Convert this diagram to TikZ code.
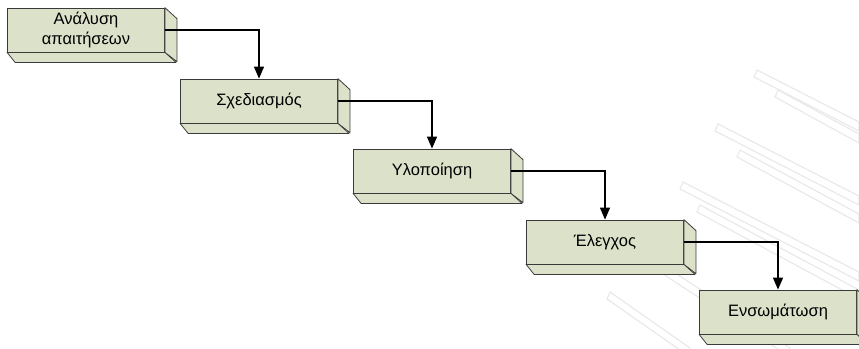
\documentclass[tikz,border=0pt]{standalone}
\usepackage{fontspec}
\setmainfont{Liberation Sans}
\usetikzlibrary{arrows.meta}

\definecolor{boxfill}{HTML}{DCE1CA}
\definecolor{boxline}{HTML}{3A3A3A}

\tikzset{
  stage/.style={draw=boxline, fill=boxfill, line width=0.8pt,
    minimum width=157pt, minimum height=44pt, inner sep=0pt,
    align=center, font=\fontsize{16.5}{19.5}\selectfont},
  face/.style={draw=boxline, fill=boxfill, line width=0.8pt, line join=round},
  flow/.style={draw=black, line width=1.3pt,
    -{Triangle[length=12pt,width=10pt]}},
  wmline/.style={draw=gray!17, line width=1.2pt}
}

\begin{document}
\begin{tikzpicture}[x=1pt,y=-1pt]
				\clip (0,0) rectangle (859,348);
				% faint watermark
				\foreach \xa/\ya/\xb/\yb in {757/70/859/122, 778/90/859/134, 718/124/859/196, 740/150/859/214, 683/182/859/272, 700/205/859/290, 640/250/790/348, 610/292/690/348}
					\draw[wmline] (\xa,\ya) -- (\xb,\yb) -- ++(0,9) -- (\xa-3,\ya+7) -- cycle;
				% stages
				\node[stage] (ana) at (86,30) {Ανάλυση\\απαιτήσεων};
				\node[stage] (sxe) at (259,101) {Σχεδιασμός};
				\node[stage] (ylo) at (432,171) {Υλοποίηση};
				\node[stage] (ele) at (605,242) {Έλεγχος};
				\node[stage] (ens) at (778,312) {Ενσωμάτωση};
				\foreach \n in {ana,sxe,ylo,ele,ens}{
					\draw[face] (\n.north east) -- ++(12,11) -- ++(0,43) -- (\n.south east) -- cycle;
					\draw[face] (\n.south west) -- ++(8,10) -- ++(161,0) -- (\n.south east) -- cycle;
				}
				% arrows
				\draw[flow] (ana.east) -| (sxe.north);
				\draw[flow] (sxe.east) -| (ylo.north);
				\draw[flow] (ylo.east) -| (ele.north);
				\draw[flow] (ele.east) -| (ens.north);
			\end{tikzpicture}
\end{document}
